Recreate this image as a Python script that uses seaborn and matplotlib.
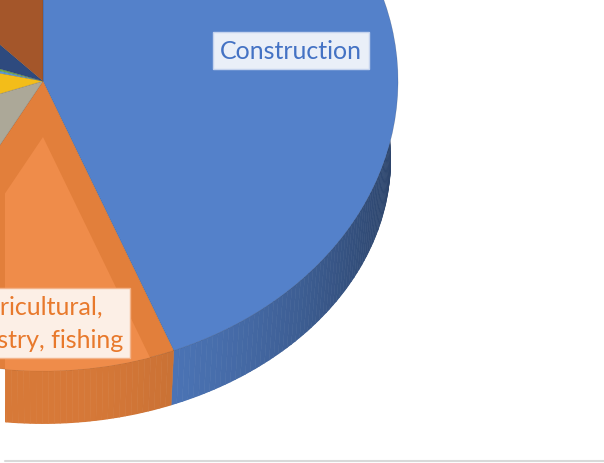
import numpy as np
import matplotlib.pyplot as plt
import seaborn as sns
from matplotlib.patches import Wedge, Ellipse
from matplotlib.collections import PolyCollection
from matplotlib.colors import to_rgb
from matplotlib.lines import Line2D

sns.set_theme(style="white")
plt.rcParams["font.family"] = ["Lato", "DejaVu Sans"]

# dati (quote in %)
settori = ["Construction", "Agricultural, forestry, fishing", "Manufacturing",
           "Transport", "Trade", "Mining", "Services", "Other"]
quote = [44.0, 14.0, 11.5, 9.0, 1.0, 0.8, 7.5, 12.2]
colori = ["#5481CA", "#E27F3B", "#ACA898", "#F3BD19",
          "#5B9BD5", "#70AD47", "#2E4A7E", "#A4562A"]
etichette = ["Construction", "Agricultural,\nforestry, fishing"]

# fondo della torta: ellisse un po' piu piccola e spostata in basso (prospettiva)
fondo_cx, fondo_cy = 0.98, -0.271
fondo_ry = 0.912

fig = plt.figure(figsize=(6.04, 4.64), dpi=100)
ax = fig.add_axes([5 / 604, 6 / 464, 599 / 604, 453 / 464])

# angoli di ogni fetta (si parte da ore 12, senso orario)
cum = np.concatenate([[0], np.cumsum(quote)]) / sum(quote) * 360
inizio = 90 - cum[:-1]
fine = 90 - cum[1:]

# bordo laterale: tante piccole facce con ombra che cambia con l'angolo
# (solo la meta davanti, quella dietro e' coperta)
facce, col_facce = [], []
for i in range(len(quote)):
    ang = np.linspace(fine[i], inizio[i], max(3, int(inizio[i] - fine[i]) + 2))
    base = np.array(to_rgb(colori[i]))
    for a1, a2 in zip(ang[:-1], ang[1:]):
        t1, t2 = np.radians(a1), np.radians(a2)
        if np.sin(t1) > 0.05 and np.sin(t2) > 0.05:
            continue
        facce.append([(np.cos(t1), np.sin(t1)), (np.cos(t2), np.sin(t2)),
                      (fondo_cx * np.cos(t2), fondo_cy + fondo_ry * np.sin(t2)),
                      (fondo_cx * np.cos(t1), fondo_cy + fondo_ry * np.sin(t1))])
        c = np.cos((t1 + t2) / 2)
        luce = 0.95 - 0.42 * max(c, 0) ** 2
        col_facce.append(np.clip(base * luce, 0, 1))
lato = PolyCollection(facce, facecolors=col_facce, edgecolors=col_facce,
                      linewidths=0.4, zorder=1)
ax.add_collection(lato)
# il lato non deve uscire dall'ellisse del fondo
sagoma = Ellipse((0, fondo_cy), 2 * fondo_cx, 2 * fondo_ry, facecolor="none",
                 edgecolor="none")
ax.add_patch(sagoma)
lato.set_clip_path(sagoma)

# superficie superiore
wedges, _ = ax.pie(quote, colors=colori, startangle=90, counterclock=False,
                   radius=1, center=(0, 0),
                   wedgeprops=dict(linewidth=0.4, edgecolor="#00000030"))
for w in wedges:
    w.set_zorder(2)

# riflesso piu chiaro sulla fetta arancione
luce_ar = Wedge((0, -0.193), 1.2, fine[1], inizio[1], facecolor="#EF8C4A",
                linewidth=0, zorder=3)
ax.add_patch(luce_ar)
luce_ar.set_clip_path(wedges[1])

ax.set_aspect("auto")
ax.set_xlim(-0.107, 1.580)
ax.set_ylim(-1.297, 0.266)
ax.axis("off")

# etichette
ax.text(0.699, 0.107, etichette[0], ha="center", va="center", fontsize=18,
        color="#4472C4", zorder=5,
        bbox=dict(boxstyle="square,pad=0.28", facecolor="#EAEFF8",
                  edgecolor="#C5D3EE", linewidth=1))
ax.text(0.225, -0.835, etichette[1], ha="right", va="center", fontsize=18,
        multialignment="center", linespacing=1.5, color="#E8792C", zorder=5,
        bbox=dict(boxstyle="square,pad=0.3", facecolor="#FCEFE6",
                  edgecolor="#F3B38A", linewidth=1))

# linea grigia in fondo
fig.add_artist(Line2D([5 / 604, 1], [2.5 / 464, 2.5 / 464], transform=fig.transFigure,
                      color="#D9D9D9", linewidth=1.5))

fig.savefig("out.png", dpi=100, facecolor="white")
